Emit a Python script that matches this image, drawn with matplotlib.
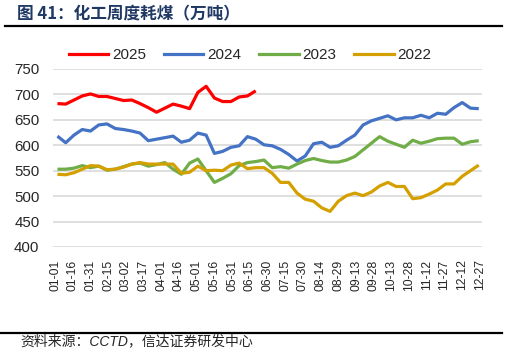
import matplotlib
matplotlib.use("Agg")
import matplotlib.pyplot as plt
from matplotlib.lines import Line2D

# --- dati (lettura dal grafico, settimanale) ---
tick_labels = ["01-01", "01-16", "01-31", "02-15", "03-02", "03-17", "04-01", "04-16",
               "05-01", "05-16", "05-31", "06-15", "06-30", "07-15", "07-30", "08-14",
               "08-29", "09-13", "09-28", "10-13", "10-28", "11-12", "11-27", "12-12", "12-27"]

y2025 = [682, 681, 689, 697, 701, 696, 696, 692, 688, 689, 682, 674, 665, 673, 681, 677,
         672, 704, 716, 693, 686, 686, 695, 697, 707]

y2024 = [618, 605, 620, 631, 628, 640, 642, 633, 631, 628, 624, 609, 612, 615, 618, 606,
         610, 624, 620, 584, 588, 596, 599, 617, 612,
         601, 599, 592, 582, 569, 579, 603, 606, 596, 599, 610, 620, 640, 648, 653, 658,
         650, 654, 654, 659, 654, 663, 661, 674, 684, 673, 672]

y2023 = [553, 553, 555, 560, 556, 559, 551, 553, 558, 563, 565, 559, 562, 566, 553, 543,
         565, 573, 550, 527, 535, 544, 560, 566, 568,
         571, 556, 558, 555, 563, 570, 574, 570, 567, 567, 571, 578, 591, 604, 617, 608,
         602, 596, 610, 604, 608, 613, 614, 614, 602, 607, 609]

y2022 = [543, 542, 546, 553, 560, 559, 552, 553, 557, 563, 566, 563, 563, 563, 563, 545,
         547, 559, 550, 551, 550, 561, 565, 554, 556,
         556, 545, 527, 527, 506, 494, 490, 477, 470, 490, 501, 506, 501, 508, 520, 527,
         519, 519, 495, 497, 504, 512, 524, 524, 539, 550, 561]

series = [("2025", y2025, "#FF0000"),
          ("2024", y2024, "#4472C4"),
          ("2023", y2023, "#70AD47"),
          ("2022", y2022, "#D4A000")]

plt.rcParams['font.family'] = ['Liberation Sans', 'Noto Sans CJK SC', 'DejaVu Sans']

W, H = 507, 348
fig = plt.figure(figsize=(W / 100, H / 100), dpi=100)

# area del grafico in pixel
left, right, top, bottom = 53.3, 481.7, 69, 247
ax = fig.add_axes([left / W, 1 - bottom / H, (right - left) / W, (bottom - top) / H])

for name, vals, col in series:
    days = [2 + 7 * i for i in range(len(vals))]
    ax.plot(days, vals, color=col, lw=2.3, solid_capstyle='butt', zorder=3)

ax.set_xlim(-1.5, 361.5)
ax.set_ylim(400, 750)
ax.set_yticks(range(400, 751, 50))
ax.set_xticks([15 * i for i in range(len(tick_labels))])
ax.set_xticklabels(tick_labels, rotation=90, fontsize=8.8, color="#262626")
ax.tick_params(axis='x', length=0, pad=9)
ax.tick_params(axis='y', length=0, pad=10, labelsize=10.8, labelcolor="#262626")
ax.grid(axis='y', color="#D9D9D9", lw=1.2, zorder=0)
for s in ax.spines.values():
    s.set_visible(False)

# legenda in alto
handles = [Line2D([0], [0], color=c, lw=2.3, label=n) for n, _, c in series]
fig.legend(handles=handles, loc='center', bbox_to_anchor=(250 / W, 1 - 55 / H), ncol=4,
           frameon=False, fontsize=11, handlelength=2.6, handletextpad=0.25,
           columnspacing=1.15, labelcolor="#262626")

# titolo e righe
fig.text(17 / W, 1 - 14 / H, "图 41：化工周度耗煤（万吨）", fontsize=12, fontweight='bold',
         color="#1F3864", va='center', ha='left', family=['Noto Sans CJK SC', 'DejaVu Sans'])
fig.add_artist(Line2D([5 / W, 502 / W], [1 - 26 / H, 1 - 26 / H], color='black', lw=1.6))
fig.add_artist(Line2D([0 / W, 502 / W], [1 - 333 / H, 1 - 333 / H], color='black', lw=1.6))
fig.text(20 / W, 1 - 341 / H, "资料来源：CCTD，信达证券研发中心", fontsize=10, color="#262626",
         va='center', ha='left', style='italic',
         family=['Liberation Sans', 'Noto Sans CJK SC', 'DejaVu Sans'])

fig.savefig("out.png", dpi=100)
